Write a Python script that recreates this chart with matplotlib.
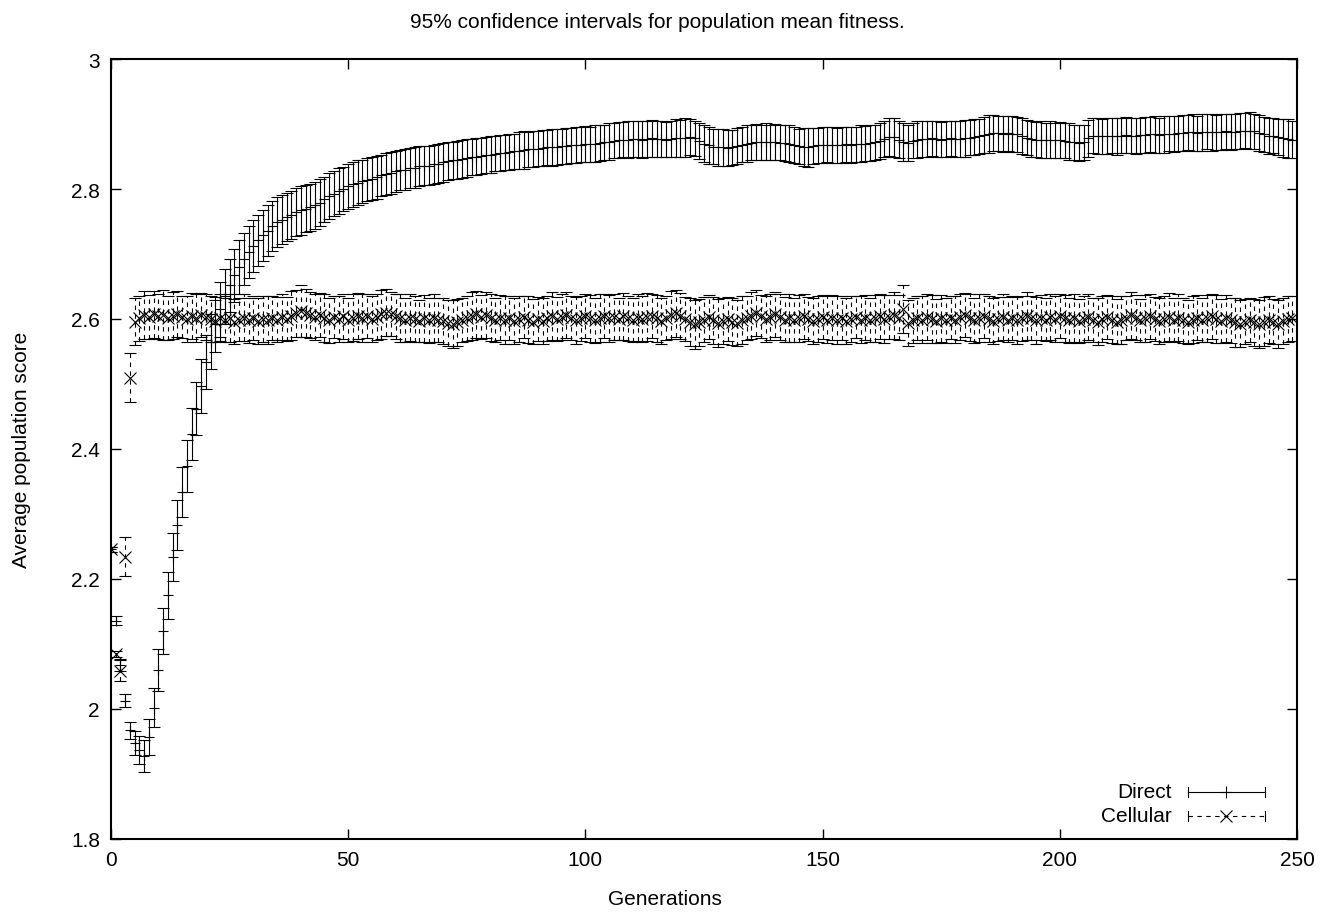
import matplotlib
matplotlib.use('Agg')
import matplotlib.pyplot as plt
import numpy as np

plt.rcParams['font.family'] = ['Liberation Sans', 'DejaVu Sans']
plt.rcParams['font.size'] = 15

# generations 0..249
generations = np.arange(250)

direct_mean = [
    2.246, 2.136, 2.068, 2.013, 1.967, 1.948, 1.937, 1.928, 1.957, 2.002,
    2.060, 2.120, 2.175, 2.234, 2.283, 2.334, 2.374, 2.423, 2.462, 2.497,
    2.534, 2.565, 2.592, 2.615, 2.635, 2.652, 2.667, 2.680, 2.692, 2.703,
    2.712, 2.721, 2.729, 2.736, 2.743, 2.749, 2.753, 2.757, 2.760, 2.764,
    2.767, 2.770, 2.772, 2.775, 2.779, 2.784, 2.789, 2.793, 2.797, 2.800,
    2.804, 2.807, 2.810, 2.812, 2.814, 2.816, 2.818, 2.821, 2.823, 2.825,
    2.827, 2.829, 2.830, 2.832, 2.833, 2.835, 2.836, 2.836, 2.838, 2.839,
    2.841, 2.843, 2.844, 2.845, 2.846, 2.848, 2.849, 2.850, 2.851, 2.852,
    2.853, 2.854, 2.855, 2.856, 2.857, 2.858, 2.859, 2.860, 2.861, 2.862,
    2.862, 2.863, 2.864, 2.864, 2.865, 2.866, 2.866, 2.867, 2.868, 2.868,
    2.869, 2.869, 2.870, 2.871, 2.872, 2.873, 2.874, 2.875, 2.876, 2.876,
    2.877, 2.877, 2.876, 2.877, 2.878, 2.877, 2.877, 2.876, 2.877, 2.878,
    2.878, 2.879, 2.880, 2.878, 2.874, 2.870, 2.867, 2.865, 2.864, 2.864,
    2.863, 2.864, 2.866, 2.868, 2.870, 2.871, 2.872, 2.872, 2.873, 2.872,
    2.872, 2.871, 2.871, 2.870, 2.868, 2.866, 2.865, 2.864, 2.866, 2.867,
    2.868, 2.868, 2.868, 2.867, 2.868, 2.869, 2.868, 2.869, 2.870, 2.870,
    2.871, 2.872, 2.874, 2.877, 2.880, 2.880, 2.876, 2.872, 2.871, 2.874,
    2.876, 2.877, 2.877, 2.878, 2.877, 2.876, 2.877, 2.878, 2.877, 2.877,
    2.878, 2.879, 2.880, 2.881, 2.883, 2.885, 2.886, 2.886, 2.885, 2.886,
    2.885, 2.884, 2.882, 2.879, 2.877, 2.876, 2.876, 2.875, 2.876, 2.875,
    2.875, 2.874, 2.873, 2.872, 2.871, 2.872, 2.878, 2.882, 2.882, 2.881,
    2.882, 2.882, 2.881, 2.882, 2.883, 2.882, 2.882, 2.883, 2.883, 2.884,
    2.884, 2.883, 2.884, 2.885, 2.885, 2.886, 2.886, 2.887, 2.887, 2.886,
    2.887, 2.888, 2.887, 2.887, 2.888, 2.889, 2.888, 2.888, 2.889, 2.890,
    2.890, 2.889, 2.886, 2.884, 2.882, 2.882, 2.880, 2.878, 2.877, 2.876,
]

direct_err = [
    0.004, 0.007, 0.009, 0.010, 0.013, 0.018, 0.022, 0.025, 0.027, 0.030,
    0.033, 0.035, 0.036, 0.037, 0.038, 0.039, 0.040, 0.040, 0.041, 0.041,
    0.042, 0.042, 0.042, 0.042, 0.042, 0.041, 0.041, 0.041, 0.040, 0.040,
    0.040, 0.039, 0.039, 0.039, 0.038, 0.038, 0.038, 0.037, 0.037, 0.037,
    0.037, 0.036, 0.036, 0.036, 0.036, 0.035, 0.035, 0.035, 0.035, 0.034,
    0.034, 0.034, 0.034, 0.033, 0.033, 0.033, 0.033, 0.032, 0.032, 0.032,
    0.032, 0.031, 0.031, 0.031, 0.031, 0.031, 0.030, 0.030, 0.030, 0.030,
    0.030, 0.029, 0.029, 0.029, 0.029, 0.029, 0.028, 0.028, 0.028, 0.028,
    0.028, 0.027, 0.028, 0.027, 0.028, 0.027, 0.028, 0.029, 0.027, 0.028,
    0.027, 0.028, 0.027, 0.029, 0.028, 0.027, 0.028, 0.027, 0.028, 0.027,
    0.028, 0.027, 0.029, 0.028, 0.027, 0.028, 0.027, 0.028, 0.027, 0.028,
    0.027, 0.028, 0.029, 0.027, 0.028, 0.027, 0.028, 0.027, 0.028, 0.029,
    0.028, 0.030, 0.028, 0.027, 0.028, 0.029, 0.028, 0.027, 0.028, 0.029,
    0.028, 0.027, 0.028, 0.027, 0.028, 0.027, 0.028, 0.027, 0.028, 0.027,
    0.028, 0.027, 0.028, 0.029, 0.028, 0.027, 0.029, 0.030, 0.028, 0.027,
    0.028, 0.027, 0.028, 0.027, 0.028, 0.027, 0.028, 0.027, 0.028, 0.027,
    0.028, 0.027, 0.028, 0.027, 0.029, 0.030, 0.028, 0.029, 0.028, 0.027,
    0.028, 0.027, 0.028, 0.027, 0.028, 0.027, 0.028, 0.027, 0.028, 0.027,
    0.028, 0.027, 0.028, 0.027, 0.028, 0.029, 0.028, 0.027, 0.028, 0.027,
    0.028, 0.027, 0.028, 0.027, 0.028, 0.027, 0.028, 0.027, 0.028, 0.027,
    0.028, 0.027, 0.028, 0.027, 0.028, 0.027, 0.028, 0.027, 0.028, 0.027,
    0.028, 0.027, 0.028, 0.027, 0.028, 0.027, 0.028, 0.027, 0.028, 0.027,
    0.028, 0.027, 0.028, 0.027, 0.028, 0.027, 0.028, 0.027, 0.028, 0.027,
    0.028, 0.027, 0.028, 0.027, 0.028, 0.027, 0.028, 0.027, 0.028, 0.027,
    0.028, 0.027, 0.028, 0.027, 0.028, 0.027, 0.028, 0.029, 0.030, 0.029,
]

cellular_mean = [
    2.246, 2.085, 2.059, 2.234, 2.510, 2.596, 2.601, 2.606, 2.603, 2.607,
    2.604, 2.606, 2.602, 2.605, 2.608, 2.603, 2.600, 2.605, 2.602, 2.606,
    2.603, 2.600, 2.597, 2.602, 2.598, 2.601, 2.596, 2.599, 2.602, 2.598,
    2.601, 2.597, 2.600, 2.598, 2.602, 2.599, 2.603, 2.600, 2.605, 2.609,
    2.612, 2.609, 2.606, 2.603, 2.606, 2.601, 2.598, 2.603, 2.600, 2.604,
    2.599, 2.602, 2.605, 2.601, 2.604, 2.600, 2.603, 2.607, 2.610, 2.608,
    2.604, 2.601, 2.598, 2.602, 2.600, 2.597, 2.601, 2.598, 2.602, 2.599,
    2.597, 2.594, 2.592, 2.595, 2.598, 2.601, 2.604, 2.607, 2.603, 2.606,
    2.602, 2.599, 2.602, 2.598, 2.601, 2.597, 2.600, 2.603, 2.599, 2.596,
    2.600, 2.597, 2.601, 2.604, 2.600, 2.603, 2.606, 2.602, 2.598, 2.601,
    2.604, 2.601, 2.598, 2.602, 2.605, 2.601, 2.603, 2.600, 2.604, 2.601,
    2.598, 2.602, 2.600, 2.603, 2.605, 2.601, 2.597, 2.601, 2.606, 2.609,
    2.605, 2.600, 2.596, 2.592, 2.595, 2.599, 2.603, 2.598, 2.594, 2.597,
    2.600, 2.596, 2.594, 2.598, 2.601, 2.605, 2.609, 2.604, 2.600, 2.603,
    2.607, 2.603, 2.599, 2.602, 2.598, 2.601, 2.604, 2.600, 2.597, 2.600,
    2.603, 2.599, 2.602, 2.598, 2.601, 2.597, 2.600, 2.603, 2.599, 2.602,
    2.598, 2.601, 2.604, 2.600, 2.603, 2.606, 2.602, 2.615, 2.594, 2.598,
    2.602, 2.599, 2.603, 2.600, 2.597, 2.601, 2.598, 2.602, 2.599, 2.603,
    2.606, 2.602, 2.598, 2.601, 2.604, 2.600, 2.597, 2.600, 2.603, 2.599,
    2.602, 2.598, 2.601, 2.605, 2.601, 2.598, 2.602, 2.599, 2.603, 2.600,
    2.604, 2.601, 2.598, 2.601, 2.597, 2.600, 2.603, 2.599, 2.596, 2.600,
    2.603, 2.599, 2.596, 2.599, 2.602, 2.606, 2.602, 2.598, 2.601, 2.604,
    2.600, 2.597, 2.600, 2.603, 2.599, 2.602, 2.598, 2.595, 2.599, 2.602,
    2.598, 2.601, 2.604, 2.600, 2.597, 2.601, 2.598, 2.595, 2.593, 2.596,
    2.599, 2.595, 2.592, 2.596, 2.599, 2.596, 2.593, 2.597, 2.600, 2.601,
]

cellular_err = [
    0.004, 0.005, 0.016, 0.030, 0.037, 0.036, 0.035, 0.037, 0.034, 0.036,
    0.035, 0.038, 0.034, 0.036, 0.035, 0.033, 0.036, 0.035, 0.037, 0.034,
    0.036, 0.035, 0.033, 0.036, 0.034, 0.037, 0.035, 0.033, 0.036, 0.035,
    0.034, 0.036, 0.035, 0.037, 0.034, 0.035, 0.036, 0.034, 0.038, 0.036,
    0.040, 0.037, 0.035, 0.036, 0.034, 0.037, 0.035, 0.033, 0.036, 0.035,
    0.034, 0.036, 0.035, 0.037, 0.034, 0.036, 0.035, 0.038, 0.036, 0.034,
    0.035, 0.037, 0.034, 0.036, 0.035, 0.033, 0.036, 0.035, 0.037, 0.034,
    0.036, 0.035, 0.037, 0.036, 0.034, 0.035, 0.037, 0.036, 0.034, 0.035,
    0.036, 0.034, 0.035, 0.037, 0.034, 0.036, 0.035, 0.033, 0.036, 0.035,
    0.034, 0.036, 0.035, 0.037, 0.034, 0.036, 0.035, 0.034, 0.036, 0.035,
    0.034, 0.036, 0.035, 0.037, 0.034, 0.036, 0.035, 0.033, 0.036, 0.035,
    0.034, 0.036, 0.035, 0.037, 0.034, 0.036, 0.035, 0.034, 0.037, 0.036,
    0.035, 0.034, 0.037, 0.038, 0.036, 0.035, 0.034, 0.036, 0.037, 0.035,
    0.034, 0.036, 0.035, 0.037, 0.034, 0.036, 0.035, 0.033, 0.036, 0.035,
    0.034, 0.036, 0.035, 0.037, 0.034, 0.036, 0.035, 0.034, 0.036, 0.035,
    0.034, 0.036, 0.035, 0.037, 0.034, 0.036, 0.035, 0.033, 0.036, 0.035,
    0.034, 0.036, 0.035, 0.037, 0.034, 0.036, 0.035, 0.037, 0.036, 0.035,
    0.034, 0.036, 0.035, 0.037, 0.034, 0.036, 0.035, 0.033, 0.036, 0.035,
    0.034, 0.036, 0.035, 0.037, 0.034, 0.036, 0.035, 0.034, 0.036, 0.035,
    0.034, 0.036, 0.035, 0.037, 0.034, 0.036, 0.035, 0.033, 0.036, 0.035,
    0.034, 0.036, 0.035, 0.037, 0.034, 0.036, 0.035, 0.034, 0.036, 0.035,
    0.034, 0.036, 0.035, 0.037, 0.034, 0.036, 0.035, 0.033, 0.036, 0.035,
    0.034, 0.036, 0.035, 0.037, 0.034, 0.036, 0.035, 0.034, 0.036, 0.035,
    0.034, 0.036, 0.035, 0.037, 0.034, 0.036, 0.035, 0.038, 0.036, 0.035,
    0.034, 0.036, 0.037, 0.038, 0.036, 0.035, 0.037, 0.035, 0.036, 0.035,
]

fig = plt.figure(figsize=(13.28, 9.2), dpi=100)
ax = fig.add_axes([111 / 1328, 80 / 920, 1186 / 1328, 780 / 920])

ax.errorbar(generations, direct_mean, yerr=direct_err, fmt='+', color='black',
            ecolor='black', elinewidth=0.8, capsize=4, capthick=0.8,
            markersize=7, markeredgewidth=0.8)
cell = ax.errorbar(generations, cellular_mean, yerr=cellular_err, fmt='x', color='black',
                   ecolor='black', elinewidth=0.8, capsize=4, capthick=0.8,
                   markersize=8.5, markeredgewidth=0.8)
cell[2][0].set_linestyle((0, (4, 4)))

ax.set_xlim(0, 250)
ax.set_ylim(1.8, 3.0)
ax.set_xticks([0, 50, 100, 150, 200, 250])
ax.set_yticks([1.8, 2.0, 2.2, 2.4, 2.6, 2.8, 3.0])
ax.yaxis.set_major_formatter(matplotlib.ticker.FormatStrFormatter('%g'))
ax.tick_params(direction='in', top=True, right=True, length=7, width=1, pad=8)
for s in ax.spines.values():
    s.set_linewidth(1.5)

ax.set_xlabel('Generations', va='center')
ax.xaxis.set_label_coords((665 - 111) / 1186, -(900 - 840) / 780)
ax.set_ylabel('Average population score', va='center')
ax.yaxis.set_label_coords(-(111 - 22) / 1186, 0.5)
fig.text(657 / 1328, 1 - 22 / 920, '95% confidence intervals for population mean fitness.',
         ha='center', va='center')

# gnuplot-like key, bottom right
tr = ax.transAxes
x0, x1 = 0.908, 0.973
for yk, label, mk, ls in [(0.0603, 'Direct', '+', '-'), (0.0295, 'Cellular', 'x', (0, (4, 4)))]:
    ax.text(0.8946, yk, label, transform=tr, ha='right', va='center')
    ax.plot([x0, x1], [yk, yk], transform=tr, color='black', lw=0.8, linestyle=ls)
    ax.plot([x0, x0], [yk - 0.0065, yk + 0.0065], transform=tr, color='black', lw=0.8)
    ax.plot([x1, x1], [yk - 0.0065, yk + 0.0065], transform=tr, color='black', lw=0.8)
    ax.plot([(x0 + x1) / 2], [yk], transform=tr, color='black', marker=mk,
            markersize=8, markeredgewidth=0.8, linestyle='None')

fig.savefig('out.png', dpi=100)
